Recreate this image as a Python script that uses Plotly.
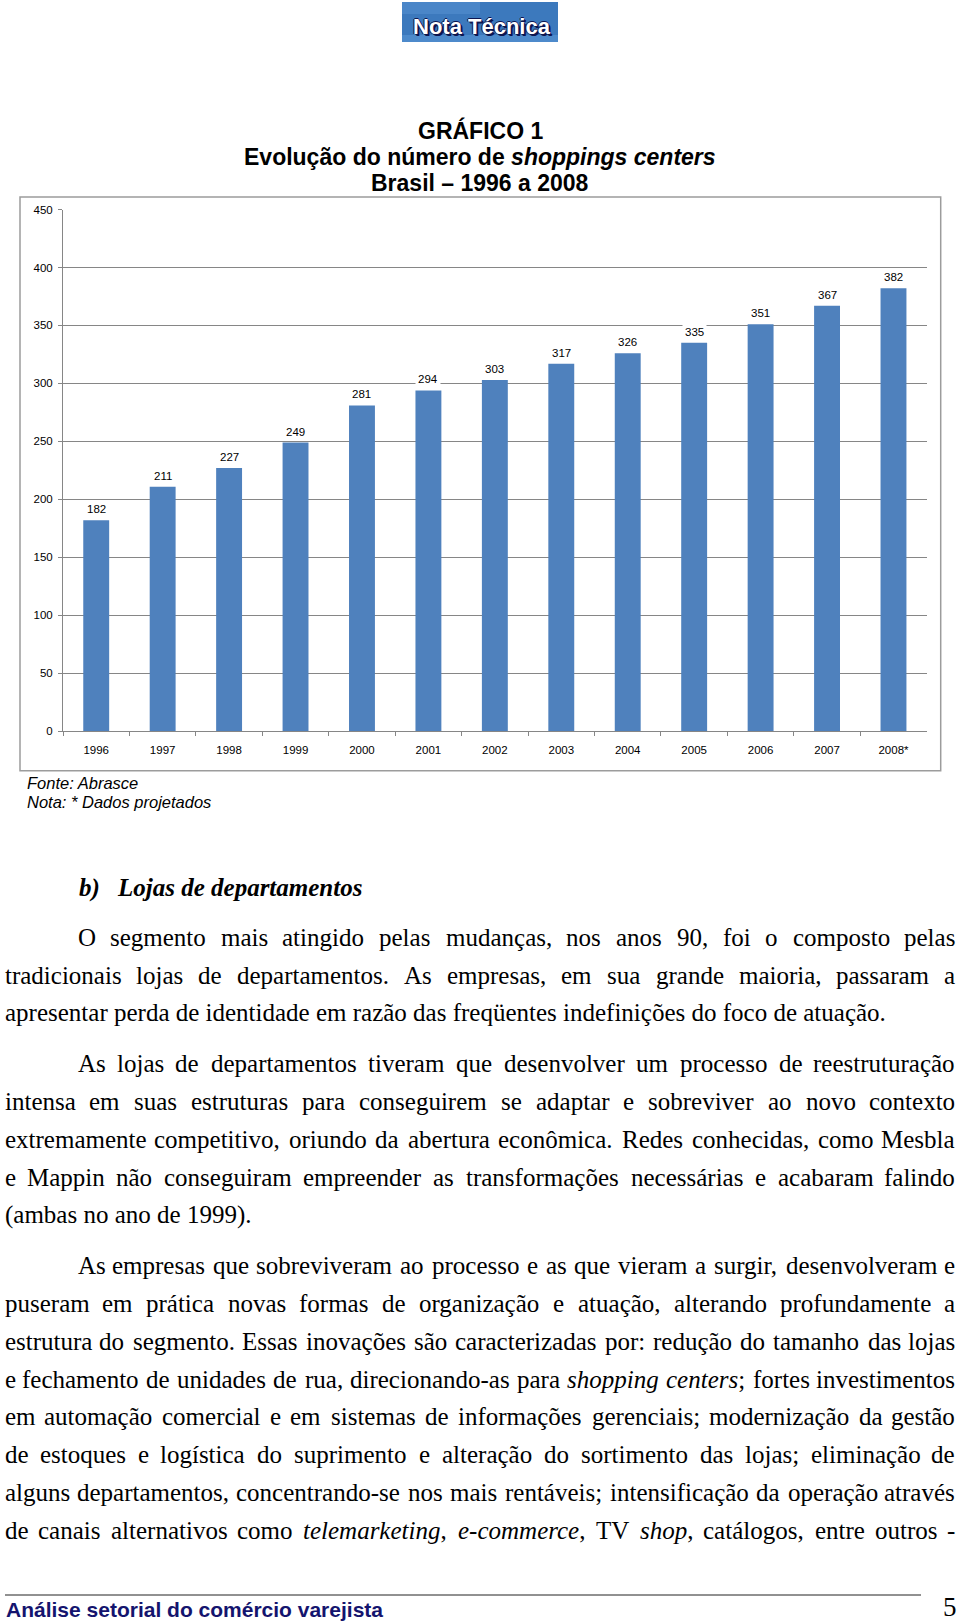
import unicodedata
import plotly.graph_objects as go

W, H = 960, 1622

# chart data -------------------------------------------------------------
YEARS = ["1996", "1997", "1998", "1999", "2000", "2001", "2002",
         "2003", "2004", "2005", "2006", "2007", "2008*"]
SHOPPINGS = [182, 211, 227, 249, 281, 294, 303, 317, 326, 335, 351, 367, 382]
Y_TICKS = [0, 50, 100, 150, 200, 250, 300, 350, 400, 450]

TITLE_LINES = ["<b>GRÁFICO 1</b>",
               "<b>Evolução do número de <i>shoppings centers</i></b>",
               "<b>Brasil – 1996 a 2008</b>"]
NOTES = ["<i>Fonte: Abrasce</i>", "<i>Nota: * Dados projetados</i>"]

# body text: (text, indented, justified)
PARA_1 = [
    ("O segmento mais atingido pelas mudanças, nos anos 90, foi o composto pelas", True, True),
    ("tradicionais lojas de departamentos. As empresas, em sua grande maioria, passaram a", False, True),
    ("apresentar perda de identidade em razão das freqüentes indefinições do foco de atuação.", False, False),
]
PARA_2 = [
    ("As lojas de departamentos tiveram que desenvolver um processo de reestruturação", True, True),
    ("intensa em suas estruturas para conseguirem se adaptar e sobreviver ao novo contexto", False, True),
    ("extremamente competitivo, oriundo da abertura econômica. Redes conhecidas, como Mesbla", False, True),
    ("e Mappin não conseguiram empreender as transformações necessárias e acabaram falindo", False, True),
    ("(ambas no ano de 1999).", False, False),
]
PARA_3 = [
    ("As empresas que sobreviveram ao processo e as que vieram a surgir, desenvolveram e", True, True),
    ("puseram em prática novas formas de organização e atuação, alterando profundamente a", False, True),
    ("estrutura do segmento. Essas inovações são caracterizadas por: redução do tamanho das lojas", False, True),
    ("e fechamento de unidades de rua, direcionando-as para <i>shopping</i> <i>centers</i>; fortes investimentos", False, True),
    ("em automação comercial e em sistemas de informações gerenciais; modernização da gestão", False, True),
    ("de estoques e logística do suprimento e alteração do sortimento das lojas; eliminação de", False, True),
    ("alguns departamentos, concentrando-se nos mais rentáveis; intensificação da operação através", False, True),
    ("de canais alternativos como <i>telemarketing</i>, <i>e-commerce</i>, TV <i>shop</i>, catálogos, entre outros -", False, True),
]
PARA_Y = [[937.5, 975, 1013],
          [1063, 1101, 1139, 1177, 1215],
          [1265.5, 1303.5, 1341, 1379, 1416, 1454, 1492, 1530]]

# rough Times New Roman advance widths (em) for justifying lines
ROMAN = dict(zip("abcdefghijklmnopqrstuvwxyz",
                 [.444, .5, .444, .5, .444, .333, .5, .5, .278, .278, .5, .278, .778,
                  .5, .5, .5, .5, .333, .389, .278, .5, .5, .722, .5, .5, .444]))
ROMAN.update(zip("ABCDEFGHIJKLMNOPQRSTUVWXYZ",
                 [.722, .667, .667, .722, .611, .556, .722, .722, .333, .389, .722, .611, .889,
                  .722, .722, .556, .722, .667, .556, .611, .722, .722, .944, .722, .722, .611]))
ROMAN.update({c: .5 for c in "0123456789"})
ROMAN.update({" ": .25, ".": .25, ",": .25, ":": .278, ";": .278, "-": .333,
              "(": .333, ")": .333, "*": .5})
ITALIC = dict(ROMAN)
ITALIC.update(zip("abcdefghijklmnopqrstuvwxyz",
                  [.5, .5, .444, .5, .444, .278, .5, .5, .278, .278, .444, .278, .722,
                   .5, .5, .5, .5, .389, .389, .278, .5, .444, .667, .444, .444, .389]))


def text_width(s, size):
    w, ital, i = 0.0, False, 0
    while i < len(s):
        if s.startswith("<i>", i):
            ital, i = True, i + 3
            continue
        if s.startswith("</i>", i):
            ital, i = False, i + 4
            continue
        c = unicodedata.normalize("NFD", s[i])[0]
        w += (ITALIC if ital else ROMAN).get(c, .5)
        i += 1
    return w * size


def px_x(x):
    return x / W


def px_y(y):
    return 1 - y / H


BODY_FONT = dict(family="Liberation Serif", size=25, color="black")
LEFT, INDENT, RIGHT = 4, 77, 956

fig = go.Figure(go.Bar(x=YEARS, y=SHOPPINGS, marker=dict(color="#4F81BD", line_width=0),
                       hoverinfo="x+y"))

# data labels with white box, like the original chart
# (category axis: annotation x is the category's serial number)
for i, v in enumerate(SHOPPINGS):
    fig.add_annotation(x=i, y=v, xref="x", yref="y", text=str(v), showarrow=False,
                       yanchor="bottom", yshift=2, bgcolor="white", borderpad=2,
                       font=dict(family="Liberation Sans", size=11.5, color="black"))

# chart title
for txt, y in zip(TITLE_LINES, [130, 157, 183]):
    fig.add_annotation(x=0.5, y=px_y(y), xref="paper", yref="paper", text=txt, showarrow=False,
                       xanchor="center", yanchor="middle",
                       font=dict(family="Liberation Sans", size=23, color="black"))

for txt, y in zip(NOTES, [783, 802]):
    fig.add_annotation(x=px_x(25), y=px_y(y), xref="paper", yref="paper", text=txt, showarrow=False,
                       xanchor="left", yanchor="middle",
                       font=dict(family="Liberation Sans", size=16.5, color="black"))


def add_body_line(text, y, left, justified):
    if not justified:
        fig.add_annotation(x=px_x(left), y=px_y(y), xref="paper", yref="paper", text=text,
                           showarrow=False, xanchor="left", yanchor="middle", borderpad=0,
                           font=BODY_FONT)
        return
    words = text.split(" ")
    widths = [text_width(w, BODY_FONT["size"]) for w in words]
    gap = (RIGHT - left - sum(widths)) / (len(words) - 1)
    x = left
    for i, (w, wd) in enumerate(zip(words, widths)):
        if i == 0:
            xa, anchor = x, "left"
        elif i == len(words) - 1:
            xa, anchor = RIGHT, "right"
        else:
            xa, anchor = x + wd / 2, "center"
        fig.add_annotation(x=px_x(xa), y=px_y(y), xref="paper", yref="paper", text=w,
                           showarrow=False, xanchor=anchor, yanchor="middle", borderpad=0,
                           font=BODY_FONT)
        x += wd + gap


# section heading
fig.add_annotation(x=px_x(78), y=px_y(887.5), xref="paper", yref="paper", text="<b><i>b)</i></b>",
                   showarrow=False, xanchor="left", yanchor="middle", borderpad=0, font=BODY_FONT)
fig.add_annotation(x=px_x(116), y=px_y(887.5), xref="paper", yref="paper",
                   text="<b><i>Lojas de departamentos</i></b>",
                   showarrow=False, xanchor="left", yanchor="middle", borderpad=0, font=BODY_FONT)

for para, ys in zip([PARA_1, PARA_2, PARA_3], PARA_Y):
    for (txt, indented, justified), y in zip(para, ys):
        add_body_line(txt, y, INDENT if indented else LEFT, justified)

# footer
fig.add_annotation(x=px_x(5), y=px_y(1609), xref="paper", yref="paper",
                   text="<b>Análise setorial do comércio varejista</b>", showarrow=False,
                   xanchor="left", yanchor="middle", borderpad=0,
                   font=dict(family="Liberation Sans", size=21, color="#14146e"))
fig.add_annotation(x=px_x(950), y=px_y(1607), xref="paper", yref="paper", text="5",
                   showarrow=False, xanchor="center", yanchor="middle", borderpad=0,
                   font=dict(family="Liberation Serif", size=27, color="black"))

# "Nota Técnica" banner at the top
fig.add_annotation(x=px_x(482), y=px_y(27), xref="paper", yref="paper", text="<b>Nota Técnica</b>",
                   showarrow=False, xanchor="center", yanchor="middle",
                   font=dict(family="Liberation Sans", size=22, color="white",
                             shadow="1px 1px 0 #0d1650, 2px 2px 0 #0d1650, -1px 0 0 #0d1650, 0 -1px 0 #0d1650"))

fig.update_layout(
    width=W, height=H,
    margin=dict(l=0, r=0, t=0, b=0, pad=0, autoexpand=False),
    paper_bgcolor="white", plot_bgcolor="white",
    showlegend=False,
    bargap=0.61,
    font=dict(family="Liberation Sans", color="black"),
    shapes=[
        dict(type="rect", xref="paper", yref="paper", layer="below",
             x0=px_x(402), x1=px_x(558), y0=px_y(42), y1=px_y(2),
             fillcolor="#3c79bd", line_width=0),
        dict(type="rect", xref="paper", yref="paper", layer="below",
             x0=px_x(402), x1=px_x(480), y0=px_y(14), y1=px_y(2),
             fillcolor="#4a86c8", line_width=0),
        dict(type="rect", xref="paper", yref="paper", layer="below",
             x0=px_x(402), x1=px_x(558), y0=px_y(42), y1=px_y(35),
             fillcolor="#4d8acb", line_width=0),
        dict(type="rect", xref="paper", yref="paper",
             x0=px_x(20), x1=px_x(940.7), y0=px_y(770.7), y1=px_y(197),
             line=dict(color="#9c9c9c", width=1.5)),
        dict(type="line", xref="paper", yref="paper",
             x0=px_x(5), x1=px_x(921), y0=px_y(1595), y1=px_y(1595),
             line=dict(color="#222222", width=1)),
    ],
    xaxis=dict(domain=[px_x(63), px_x(926.7)], type="category", range=[-0.5, 12.5],
               automargin=False,
               showline=True, linecolor="#868686", linewidth=1,
               ticks="outside", tickson="boundaries", ticklen=4, tickcolor="#868686",
               ticklabelstandoff=8, showgrid=False,
               tickfont=dict(family="Liberation Sans", size=11.5, color="black")),
    yaxis=dict(domain=[px_y(731.3), px_y(209.5)], range=[0, 450], tickvals=Y_TICKS,
               automargin=False,
               showline=True, linecolor="#868686", linewidth=1,
               showgrid=True, gridcolor="#868686", gridwidth=1, zeroline=False,
               ticks="outside", ticklen=4, tickcolor="#868686", ticklabelstandoff=3,
               tickfont=dict(family="Liberation Sans", size=11.5, color="black")),
)

fig.write_html("out.html", config={"displayModeBar": False},
               post_script="document.body.style.margin='0';document.body.style.overflow='hidden';")
